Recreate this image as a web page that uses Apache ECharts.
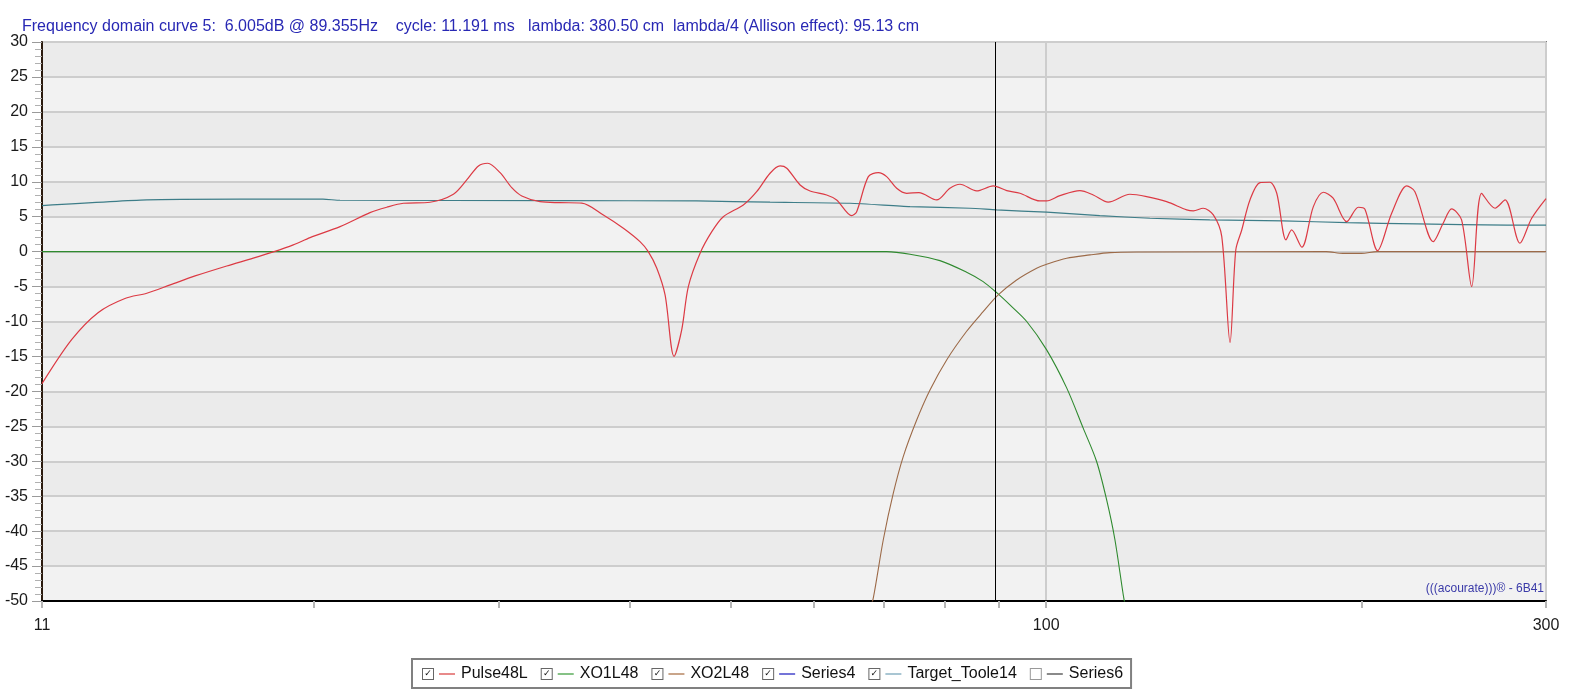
<!DOCTYPE html>
<html>
<head>
<meta charset="utf-8">
<script src="https://cdn.jsdelivr.net/npm/echarts@6/dist/echarts.min.js"></script>
<style>
html,body{margin:0;padding:0;background:#fff;}
#chart{width:1576px;height:697px;}
</style>
</head>
<body>
<div id="chart"></div>
<script>
// ---- data ----
const pulseFreq = [11, 11.74, 12.45, 13.2, 13.85, 14.58, 15.4, 16.51, 17.5, 18.29, 19.11, 19.83, 21.18, 22.62, 23.47, 24.34, 25.81, 27.17, 27.98, 28.71, 29.3, 30.11, 30.89, 31.58, 32.87, 34.35, 36.03, 37.78, 39.48, 40.95, 41.7, 42.49, 43.27, 44.13, 44.88, 45.54, 46.73, 47.95, 49.18, 51.39, 52.92, 54.5, 55.71, 56.54, 58.22, 59.51, 61.72, 63.09, 65.21, 65.93, 67.64, 69.14, 70.42, 71.99, 73.59, 75.6, 78.59, 80.93, 82.74, 85.82, 89.02, 91.69, 94.4, 98.65, 100.1, 103.07, 107.69, 110.9, 114.6, 120.2, 124.7, 130.3, 136.2, 138.2, 141.2, 144.4, 147.1, 149.8, 151.7, 153.7, 156.5, 160.0, 163.5, 166.0, 169.4, 171.5, 175.4, 179.9, 183.9, 187.9, 193.6, 198.6, 201.5, 207.2, 213.7, 220.9, 224.9, 234.2, 239.3, 243.8, 249.2, 254.8, 260.4, 268.2, 274.2, 283.3, 290.7, 300];
const pulseDb = [-18.9, -12.6, -8.7, -6.7, -5.95, -4.76, -3.48, -2.05, -0.94, -0.04, 0.96, 2.0, 3.58, 5.58, 6.35, 6.92, 7.07, 8.21, 10.26, 12.26, 12.65, 11.3, 9.16, 7.97, 7.15, 7.01, 6.95, 5.25, 3.35, 1.43, 0, -2.37, -6.19, -15.0, -11.2, -5.0, -0.23, 2.86, 5.0, 6.68, 8.58, 11.22, 12.26, 11.93, 9.54, 8.68, 8.11, 7.4, 5.15, 5.72, 10.73, 11.3, 10.73, 9.07, 8.35, 8.45, 7.4, 9.07, 9.64, 8.68, 9.4, 8.73, 8.35, 7.25, 7.25, 8.01, 8.73, 8.11, 7.07, 8.21, 7.87, 7.15, 5.97, 5.82, 6.21, 5.25, 2.15, -13.0, 0.24, 3.1, 7.4, 9.87, 9.93, 8.35, 1.67, 3.1, 0.63, 6.44, 8.5, 7.64, 4.29, 6.35, 6.07, 0.14, 5.49, 9.4, 8.58, 1.43, 4.06, 6.11, 4.54, -5.0, 8.35, 6.21, 7.4, 1.2, 4.78, 7.6];

const xo1Freq = [11, 70.42, 74.13, 79.17, 83.96, 87.06, 89.8, 92.34, 95.81, 100.1, 104.6, 108.5, 111.7, 114.2, 116.3, 118.6, 119.2];
const xo1Db = [0, 0, -0.37, -1.29, -2.95, -4.29, -5.95, -7.63, -10.0, -14.06, -19.5, -25.3, -30.0, -35.5, -41.2, -49.6, -51];

const xo2Freq = [67.9, 68.38, 69.91, 71.45, 73.05, 75.23, 77.46, 80.35, 83.96, 87.06, 89.98, 93.71, 97.92, 100.1, 104.6, 110.1, 115.05, 122.0, 185, 192, 200, 207, 300];
const xo2Db = [-51, -49.6, -41.2, -34.6, -29.3, -24.1, -19.8, -15.5, -11.4, -8.6, -6.2, -4.05, -2.37, -1.8, -0.94, -0.47, -0.14, -0.05, 0, -0.25, -0.25, 0, 0];

const targetFreq = [11, 13.85, 17.0, 20.4, 21.18, 34.35, 46.4, 54.5, 64.97, 74.13, 84.57, 89.67, 100.1, 112.5, 125.6, 143.3, 168.3, 193.7, 225.9, 275.4, 300];
const targetDb = [6.58, 7.4, 7.5, 7.5, 7.35, 7.3, 7.25, 7.07, 6.92, 6.44, 6.21, 5.97, 5.64, 5.15, 4.78, 4.53, 4.39, 4.15, 3.96, 3.78, 3.78];

const markerFreq = 89.355;
const xTickValues = [11, 20, 30, 40, 50, 60, 70, 80, 90, 100, 200, 300];
const legendNames = ['Pulse48L', 'XO1L48', 'XO2L48', 'Series4', 'Target_Toole14', 'Series6'];
const legendChecked = [true, true, true, true, true, false];
const legendLineColors = ['#e88a8a', '#86c286', '#c9a58a', '#7474d8', '#a9c6d3', '#8a8a8a'];
const titleText = 'Frequency domain curve 5:  6.005dB @ 89.355Hz    cycle: 11.191 ms   lambda: 380.50 cm  lambda/4 (Allison effect): 95.13 cm';
const watermarkText = '(((acourate)))\u00AE - 6B41';

// ---- build ----
const zip = (a, b) => a.map((v, i) => [v, b[i]]);
const FONT = '"Liberation Sans", Arial, sans-serif';

const rich = {
  cb: { width: 10, height: 10, lineHeight: 10, borderColor: '#666', borderWidth: 1, fontSize: 9, align: 'center', color: '#111', fontFamily: '"DejaVu Sans"', backgroundColor: '#fff' },
  cbu: { width: 10, height: 10, lineHeight: 10, borderColor: '#999', borderWidth: 1, fontSize: 9, align: 'center', color: '#111', backgroundColor: '#fff' },
  sp: { width: 6, fontSize: 1 },
  t: { fontSize: 16, fontFamily: FONT, color: '#111', padding: [0, 0, 0, 6] }
};
legendLineColors.forEach((c, i) => {
  rich['l' + i] = { width: 16, height: 2, backgroundColor: c, fontSize: 1, verticalAlign: 'middle' };
});

const chart = echarts.init(document.getElementById('chart'), null, { renderer: 'canvas' });
const option = {
  animation: false,
  backgroundColor: '#ffffff',
  title: {
    text: titleText,
    left: 17, top: 14,
    textStyle: { fontSize: 16, fontWeight: 'normal', color: '#2828b4', fontFamily: FONT }
  },
  grid: {
    left: 42, right: 30, top: 42, bottom: 96,
    show: true, backgroundColor: '#efefef', borderColor: '#7c7c7c', borderWidth: 2
  },
  xAxis: [
    {
      type: 'log', logBase: 10, min: 11, max: 300,
      axisLine: { show: true, onZero: false, lineStyle: { color: '#000', width: 2 } },
      axisTick: { show: false },
      axisLabel: { fontSize: 16, color: '#1a1a1a', margin: 17, fontFamily: FONT, showMinLabel: true, showMaxLabel: true },
      splitLine: { show: true, lineStyle: { color: '#cdcdcd', width: 2 } },
      minorTick: { show: false }
    },
    {
      type: 'log', logBase: 10, min: 11, max: 300, position: 'bottom',
      axisLine: { show: false, onZero: false },
      axisLabel: { show: false },
      splitLine: { show: false },
      axisTick: { show: true, customValues: xTickValues, length: 7, lineStyle: { color: '#b5b5b5', width: 2 } }
    }
  ],
  yAxis: {
    type: 'value', min: -50, max: 30, interval: 5,
    axisLine: { show: true, onZero: false, lineStyle: { color: '#2a1a0e', width: 2 } },
    axisTick: { show: true, length: 10, lineStyle: { color: '#9a9a9a' } },
    minorTick: { show: true, splitNumber: 5, length: 7, lineStyle: { color: '#b0b0b0' } },
    axisLabel: { fontSize: 16, color: '#1a1a1a', margin: 14, fontFamily: FONT },
    splitLine: { show: true, lineStyle: { color: '#cdcdcd', width: 2 } },
    splitArea: { show: true, areaStyle: { color: ['#f2f2f2', '#ebebeb'] } }
  },
  legend: {
    data: legendNames,
    left: 412, top: 659,
    padding: [7, 8, 6, 5],
    itemGap: 8, itemWidth: 0, itemHeight: 0,
    selectedMode: false,
    backgroundColor: '#fff', borderColor: '#808080', borderWidth: 2, borderRadius: 0,
    textStyle: { fontSize: 16, fontFamily: FONT, color: '#111', rich: rich },
    formatter: function (name) {
      const i = legendNames.indexOf(name);
      const box = legendChecked[i] ? '{cb|\u2713}' : '{cbu| }';
      return box + '{sp| }{l' + i + '| }{t|' + name + '}';
    }
  },
  graphic: [
    { type: 'text', right: 32, top: 583, z: 100,
      style: { text: watermarkText, fill: '#3a3aa8', font: '12px ' + FONT } }
  ],
  series: [
    { name: 'Pulse48L', type: 'line', data: zip(pulseFreq, pulseDb), showSymbol: false, smooth: 0.3,
      lineStyle: { color: '#dc3a44', width: 1.2 }, itemStyle: { color: '#dc3a44' }, z: 5,
      markLine: { silent: true, symbol: ['none', 'none'], label: { show: false },
        lineStyle: { color: '#000', width: 1, type: 'solid' }, data: [{ xAxis: markerFreq }] } },
    { name: 'XO1L48', type: 'line', data: zip(xo1Freq, xo1Db), showSymbol: false, smooth: 0.3,
      lineStyle: { color: '#2f8a2f', width: 1.1 }, itemStyle: { color: '#2f8a2f' }, z: 3 },
    { name: 'XO2L48', type: 'line', data: zip(xo2Freq, xo2Db), showSymbol: false, smooth: 0.3,
      lineStyle: { color: '#9c6a48', width: 1.1 }, itemStyle: { color: '#9c6a48' }, z: 4 },
    { name: 'Series4', type: 'line', data: [], showSymbol: false,
      lineStyle: { color: '#5050d0', width: 1 }, itemStyle: { color: '#5050d0' } },
    { name: 'Target_Toole14', type: 'line', data: zip(targetFreq, targetDb), showSymbol: false, smooth: 0.2,
      lineStyle: { color: '#3d7d88', width: 1.2 }, itemStyle: { color: '#3d7d88' }, z: 4 },
    { name: 'Series6', type: 'line', data: [], showSymbol: false,
      lineStyle: { color: '#707070', width: 1 }, itemStyle: { color: '#707070' } }
  ]
};
chart.setOption(option);
</script>
</body>
</html>
